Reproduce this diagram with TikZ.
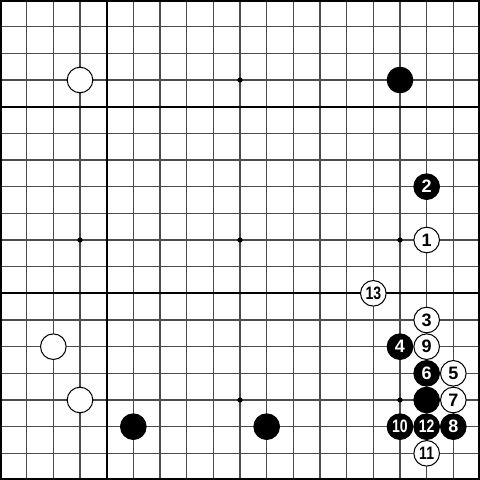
\documentclass[tikz,border=0pt]{standalone}
\usepackage{fontspec}
\setmainfont{Liberation Sans}
\begin{document}
\begin{tikzpicture}[x=0.5cm,y=-0.5cm,
  gridline/.style={draw=black!70,line width=0.55pt},
  heavyline/.style={draw=black,line width=1.1pt},
  frameline/.style={draw=black,line width=2.2pt},
  stonebase/.style={circle,inner sep=0pt,minimum size=0.48cm,font=\bfseries\fontsize{9.6}{10}\selectfont},
  wstone/.style={stonebase,draw=black,fill=white,line width=0.55pt,text=black},
  bstone/.style={stonebase,draw=black,fill=black,line width=0.55pt,text=white},
  hoshi/.style={circle,fill=black,inner sep=0pt,minimum size=0.1cm}]
\useasboundingbox (0,0) rectangle (18,18);
\fill[white] (0,0) rectangle (18,18);
\foreach \k in {1,2,3,4,5,6,7,8,9,10,11,12,13,14,15,16,17} {
  \draw[gridline] (\k,0) -- (\k,18);
}
\foreach \k in {1,2,3,4,5,6,7,8,9,10,11,12,13,14,15,16,17} {
  \draw[gridline] (0,\k) -- (18,\k);
}
\draw[heavyline] (4,0) -- (4,18);
\draw[heavyline] (0,4) -- (18,4);
\draw[heavyline] (0,11) -- (18,11);
\draw[frameline] (0,0) rectangle (18,18);
\foreach \i/\j [count=\n] in {3/3,9/3,15/3,3/9,9/9,15/9,3/15,9/15,15/15}
  \node[hoshi] (h\n) at (\i,\j) {};
% unnumbered stones
\node[wstone] (wa) at (3,3) {};
\node[bstone] (ba) at (15,3) {};
\node[wstone] (wb) at (2,13) {};
\node[wstone] (wc) at (3,15) {};
\node[bstone] (bb) at (5,16) {};
\node[bstone] (bc) at (10,16) {};
\node[bstone] (bd) at (16,15) {};
% numbered stones
\node[wstone] (m1) at (16,9) {1};
\node[bstone] (m2) at (16,7) {2};
\node[wstone] (m3) at (16,12) {3};
\node[bstone] (m4) at (15,13) {4};
\node[wstone] (m5) at (17,14) {5};
\node[bstone] (m6) at (16,14) {6};
\node[wstone] (m7) at (17,15) {7};
\node[bstone] (m8) at (17,16) {8};
\node[wstone] (m9) at (16,13) {9};
\node[bstone] (m10) at (15,16) {\scalebox{0.78}[1]{10}};
\node[wstone] (m11) at (16,17) {\scalebox{0.78}[1]{11}};
\node[bstone] (m12) at (16,16) {\scalebox{0.78}[1]{12}};
\node[wstone] (m13) at (14,11) {\scalebox{0.78}[1]{13}};
\end{tikzpicture}
\end{document}
